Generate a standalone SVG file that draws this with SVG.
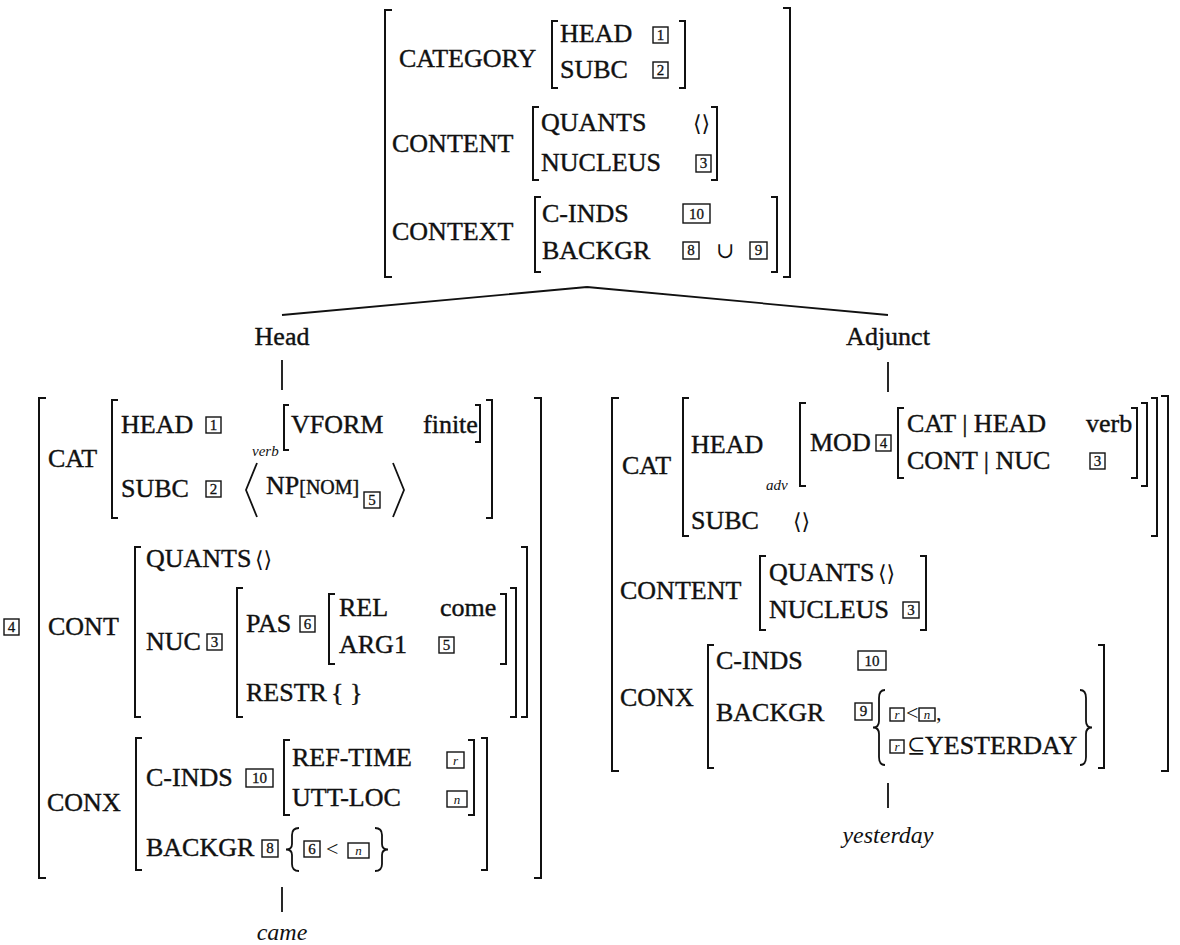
<svg xmlns="http://www.w3.org/2000/svg" width="1180" height="945" viewBox="0 0 1180 945">
<style>
.t{font-family:"Liberation Serif","Times New Roman",serif;font-size:26px;fill:#111;stroke:#111;stroke-width:0.4px}
.m{font-family:"Liberation Serif","DejaVu Serif",serif;font-size:22px;fill:#111}
.it{font-family:"Liberation Serif",serif;font-style:italic;fill:#111}
.n{font-family:"Liberation Serif",serif;font-size:15px;fill:#111;stroke:#111;stroke-width:0.3px;text-anchor:middle}
.ni{font-family:"Liberation Serif",serif;font-size:13px;font-style:italic;fill:#111;text-anchor:middle}
.br{fill:none;stroke:#111;stroke-width:2}
.bx{fill:none;stroke:#111;stroke-width:1.4}
.ln{fill:none;stroke:#111;stroke-width:1.8}
</style>
<rect width="1180" height="945" fill="#fff"/>

<g id="connectors">
<path class="ln" d="M587,287 L282,315 M587,287 L888,315"/>
<path class="ln" d="M282,360 V390 M888,362 V392 M282,887 V912 M888,783 V808"/>
</g>

<g id="node-mother">
<path class="br" d="M392,10 H385 V277 H392 M783,8 H790 V277 H783"/>
<text class="t" x="399" y="67">CATEGORY</text>
<path class="br" d="M558,21 H552 V88 H558 M679,21 H685 V88 H679"/>
<text class="t" x="560" y="42">HEAD</text>
<rect class="bx" x="653" y="27" width="15" height="16"/><text class="n" x="660.5" y="40">1</text>
<text class="t" x="560" y="78">SUBC</text>
<rect class="bx" x="653" y="62" width="15" height="16"/><text class="n" x="660.5" y="75">2</text>
<text class="t" x="392" y="152">CONTENT</text>
<path class="br" d="M539,107 H533 V180 H539 M711,107 H717 V180 H711"/>
<text class="t" x="541" y="131">QUANTS</text>
<text class="m" x="693" y="131">⟨⟩</text>
<text class="t" x="541" y="171">NUCLEUS</text>
<rect class="bx" x="696" y="155" width="15" height="17"/><text class="n" x="703.5" y="168">3</text>
<text class="t" x="392" y="240">CONTEXT</text>
<path class="br" d="M541,197 H535 V272 H541 M771,197 H777 V272 H771"/>
<text class="t" x="542" y="222">C-INDS</text>
<rect class="bx" x="683" y="204" width="27" height="19"/><text class="n" x="696.5" y="219">10</text>
<text class="t" x="542" y="259">BACKGR</text>
<rect class="bx" x="683" y="242" width="16" height="17"/><text class="n" x="691" y="255">8</text>
<text class="m" x="716" y="258">∪</text>
<rect class="bx" x="750" y="242" width="17" height="17"/><text class="n" x="758.5" y="255">9</text>
</g>

<g id="label-head">
<text class="t" x="282" y="345" text-anchor="middle">Head</text>
</g>
<g id="label-adjunct">
<text class="t" x="888" y="345" text-anchor="middle">Adjunct</text>
</g>

<g id="node-head">
<rect class="bx" x="4" y="619" width="15" height="16"/><text class="n" x="11.5" y="632">4</text>
<path class="br" d="M46,398 H39 V878 H46 M534,398 H541 V878 H534"/>
<text class="t" x="48" y="467">CAT</text>
<path class="br" d="M118,400 H112 V518 H118 M486,400 H492 V518 H486"/>
<text class="t" x="121" y="433">HEAD</text>
<rect class="bx" x="206" y="417" width="15" height="16"/><text class="n" x="213.5" y="430">1</text>
<text class="it" x="252" y="456" font-size="15">verb</text>
<path class="br" d="M289,405 H284 V450 H289 M475,405 H480 V442 H475"/>
<text class="t" x="291" y="433">VFORM</text>
<text class="t" x="423" y="433">finite</text>
<text class="t" x="121" y="497">SUBC</text>
<rect class="bx" x="206" y="481" width="15" height="16"/><text class="n" x="213.5" y="494">2</text>
<path class="ln" d="M257,463 L246,490 L257,517 M393,463 L404,490 L393,517"/>
<text class="t" x="266" y="494">NP<tspan font-size="20">[NOM]</tspan></text>
<rect class="bx" x="364" y="492" width="16" height="16"/><text class="n" x="372" y="505">5</text>

<text class="t" x="48" y="635">CONT</text>
<path class="br" d="M141,547 H135 V717 H141 M521,547 H527 V717 H521"/>
<text class="t" x="146" y="567">QUANTS</text>
<text class="m" x="255" y="567">⟨⟩</text>
<text class="t" x="146" y="650">NUC</text>
<rect class="bx" x="207" y="634" width="15" height="16"/><text class="n" x="214.5" y="647">3</text>
<path class="br" d="M243,588 H237 V717 H243 M510,588 H516 V717 H510"/>
<text class="t" x="246" y="632">PAS</text>
<rect class="bx" x="300" y="616" width="15" height="16"/><text class="n" x="307.5" y="629">6</text>
<path class="br" d="M335,594 H329 V664 H335 M500,594 H506 V664 H500"/>
<text class="t" x="339" y="616">REL</text>
<text class="t" x="440" y="616">come</text>
<text class="t" x="339" y="653">ARG1</text>
<rect class="bx" x="439" y="637" width="15" height="16"/><text class="n" x="446.5" y="650">5</text>
<text class="t" x="246" y="701">RESTR</text>
<text class="t" x="331" y="701">{ }</text>

<text class="t" x="47" y="811">CONX</text>
<path class="br" d="M142,738 H136 V870 H142 M481,738 H487 V870 H481"/>
<text class="t" x="146" y="786">C-INDS</text>
<rect class="bx" x="246" y="769" width="27" height="18"/><text class="n" x="259.5" y="783">10</text>
<path class="br" d="M290,740 H284 V815 H290 M468,740 H474 V815 H468"/>
<text class="t" x="292" y="766">REF-TIME</text>
<rect class="bx" x="447" y="752" width="17" height="16"/><text class="ni" x="455.5" y="765">r</text>
<text class="t" x="292" y="806">UTT-LOC</text>
<rect class="bx" x="447" y="791" width="20" height="16"/><text class="ni" x="457" y="804">n</text>
<text class="t" x="146" y="856">BACKGR</text>
<rect class="bx" x="262" y="840" width="16" height="17"/><text class="n" x="270" y="853">8</text>
<path class="ln" d="M299,828 Q292,828 292,835 V844 Q292,849.5 286,849.5 Q292,849.5 292,855 V864 Q292,871 299,871"/>
<rect class="bx" x="304" y="841" width="16" height="16"/><text class="n" x="312" y="854">6</text>
<text class="m" x="326" y="856">&lt;</text>
<rect class="bx" x="348" y="843" width="21" height="15"/><text class="ni" x="358.5" y="855">n</text>
<path class="ln" d="M375,828 Q382,828 382,835 V844 Q382,849.5 388,849.5 Q382,849.5 382,855 V864 Q382,871 375,871"/>
</g>
<g id="leaf-came">
<text class="it" x="282" y="940" font-size="24" text-anchor="middle">came</text>
</g>

<g id="node-adjunct">
<path class="br" d="M619,398 H612 V771 H619 M1161,396 H1168 V771 H1161"/>
<text class="t" x="622" y="474">CAT</text>
<path class="br" d="M689,398 H683 V536 H689 M1151,398 H1157 V536 H1151"/>
<text class="t" x="691" y="453">HEAD</text>
<text class="it" x="766" y="490" font-size="15">adv</text>
<path class="br" d="M806,403 H800 V486 H806 M1141,403 H1147 V486 H1141"/>
<text class="t" x="810" y="451">MOD</text>
<rect class="bx" x="876" y="435" width="15" height="16"/><text class="n" x="883.5" y="448">4</text>
<path class="br" d="M904,408 H898 V478 H904 M1131,408 H1137 V478 H1131"/>
<text class="t" x="907" y="432">CAT | HEAD</text>
<text class="t" x="1086" y="432">verb</text>
<text class="t" x="907" y="469">CONT | NUC</text>
<rect class="bx" x="1090" y="453" width="15" height="16"/><text class="n" x="1097.5" y="466">3</text>
<text class="t" x="691" y="529">SUBC</text>
<text class="m" x="793" y="529">⟨⟩</text>

<text class="t" x="620" y="599">CONTENT</text>
<path class="br" d="M766,556 H760 V630 H766 M920,556 H926 V630 H920"/>
<text class="t" x="769" y="581">QUANTS</text>
<text class="m" x="878" y="581">⟨⟩</text>
<text class="t" x="769" y="618">NUCLEUS</text>
<rect class="bx" x="903" y="602" width="16" height="16"/><text class="n" x="911" y="615">3</text>

<text class="t" x="620" y="706">CONX</text>
<path class="br" d="M714,645 H708 V768 H714 M1098,645 H1104 V768 H1098"/>
<text class="t" x="716" y="669">C-INDS</text>
<rect class="bx" x="858" y="651" width="28" height="19"/><text class="n" x="872" y="666">10</text>
<text class="t" x="716" y="721">BACKGR</text>
<rect class="bx" x="855" y="703" width="17" height="17"/><text class="n" x="863.5" y="716">9</text>
<path class="ln" d="M885,690 Q879,690 879,698 V721 Q879,727.5 873,727.5 Q879,727.5 879,734 V757 Q879,765 885,765"/>
<rect class="bx" x="890" y="708" width="14" height="13"/><text class="ni" x="897" y="719">r</text>
<text class="m" x="906" y="720" font-size="18">&lt;</text>
<rect class="bx" x="919" y="708" width="16" height="13"/><text class="ni" x="927" y="719">n</text>
<text class="m" x="936" y="720" font-size="18">,</text>
<rect class="bx" x="890" y="740" width="14" height="13"/><text class="ni" x="897" y="751">r</text>
<text class="m" x="907" y="753" font-size="18">⊆</text>
<text class="t" x="925" y="754" font-size="21">YESTERDAY</text>
<path class="ln" d="M1080,690 Q1086,690 1086,698 V721 Q1086,727.5 1092,727.5 Q1086,727.5 1086,734 V757 Q1086,765 1080,765"/>
</g>
<g id="leaf-yesterday">
<text class="it" x="888" y="843" font-size="24" text-anchor="middle">yesterday</text>
</g>
</svg>
